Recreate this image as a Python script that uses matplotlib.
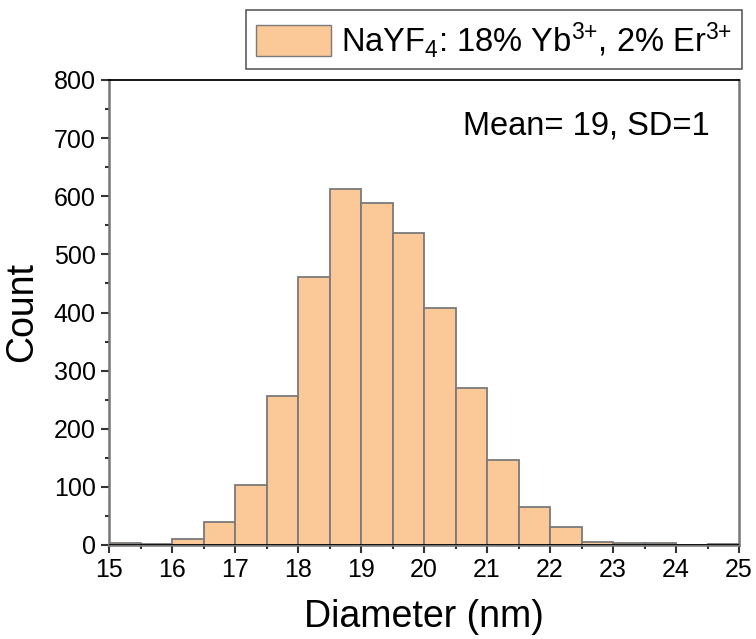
import matplotlib
matplotlib.use('Agg')
import matplotlib.pyplot as plt
import numpy as np
from matplotlib.ticker import MultipleLocator
from matplotlib.patches import Patch

plt.rcParams['font.family'] = ['Liberation Sans', 'DejaVu Sans']
plt.rcParams['mathtext.fontset'] = 'custom'
plt.rcParams['mathtext.rm'] = 'Liberation Sans'
plt.rcParams['mathtext.it'] = 'Liberation Sans'

# histogram of particle diameters, bin width 0.5 nm
bin_left = np.arange(15, 25, 0.5)
counts = [4, 2, 11, 39, 103, 256, 461, 612, 588, 536,
          408, 270, 147, 66, 31, 5, 3, 3, 0, 1]
bin_width = 0.5

fig = plt.figure(figsize=(7.56, 6.39), dpi=100)
ax = fig.add_axes([109/756, 1 - 545/639, 630/756, 465/639])

ax.bar(bin_left, counts, width=bin_width, align='edge',
       color='#fbc898', edgecolor='#7a7a7a', linewidth=1.3)

ax.set_xlim(15, 25)
ax.set_ylim(0, 800)
ax.xaxis.set_major_locator(MultipleLocator(1))
ax.xaxis.set_minor_locator(MultipleLocator(0.5))
ax.yaxis.set_major_locator(MultipleLocator(100))
ax.yaxis.set_minor_locator(MultipleLocator(50))
ax.tick_params(which='both', direction='out', labelsize=18, width=1.5, color='#333333')
ax.tick_params(which='major', length=6)
ax.tick_params(which='minor', length=3)
ax.tick_params(top=False, right=False)
for name, s in ax.spines.items():
    s.set_linewidth(1.8)
    s.set_color('#777777')
ax.spines['top'].set_color('black')
ax.spines['top'].set_linewidth(1.3)
ax.axhline(0, color='black', lw=1.2, zorder=3)

ax.set_xlabel('Diameter (nm)', fontsize=27, labelpad=12)
ax.set_ylabel('Count', fontsize=27, labelpad=10)

ax.text(0.953, 0.901, 'Mean= 19, SD=1', transform=ax.transAxes,
        fontsize=23.5, ha='right', va='center')

handle = Patch(facecolor='#fbc898', edgecolor='#7a7a7a')
leg = fig.legend([handle], [r'NaYF$_4$: 18% Yb$^{3{+}}$, 2% Er$^{3{+}}$'],
                 loc='upper right', bbox_to_anchor=(742/756, 1 - 10/639),
                 fontsize=23.5, frameon=True, fancybox=False,
                 handlelength=2.3, handleheight=1.1, borderpad=0.3,
                 handletextpad=0.3, borderaxespad=0)
leg.get_frame().set_edgecolor('#333333')
leg.get_frame().set_linewidth(1.2)

fig.savefig('out.png', dpi=100)
